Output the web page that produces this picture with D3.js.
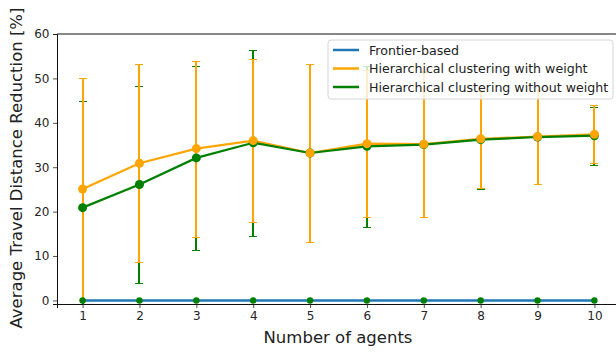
<!DOCTYPE html>
<html>
<head>
<meta charset="utf-8">
<script src="https://cdn.jsdelivr.net/npm/d3@7"></script>
<style>
  body { margin: 0; background: #fff; }
  text { font-family: "DejaVu Sans", sans-serif; }
</style>
</head>
<body>
<div id="chart"></div>
<script>
// data
const agents = [1, 2, 3, 4, 5, 6, 7, 8, 9, 10];
const frontier = [0, 0, 0, 0, 0, 0, 0, 0, 0, 0];
const withWeight = [25.1, 30.9, 34.2, 36.0, 33.2, 35.3, 35.2, 36.4, 36.9, 37.4];
const withWeightStd = [25.1, 22.3, 19.8, 18.3, 20.0, 16.5, 16.4, 11.1, 10.6, 6.5];
const withoutWeight = [20.9, 26.1, 32.1, 35.5, 33.2, 34.7, 35.1, 36.2, 36.8, 37.1];
const withoutWeightStd = [24.0, 22.1, 20.7, 20.9, 20.0, 18.2, 16.3, 11.0, 10.5, 6.5];
const yTicks = [0, 10, 20, 30, 40, 50, 60];
const legendLabels = ["Frontier-based", "Hierarchical clustering with weight", "Hierarchical clustering without weight"];
const colors = ["#1f77b4", "orange", "green"];

const width = 616, height = 352;

const svg = d3.select("#chart").append("svg")
  .attr("width", width)
  .attr("height", height);

// axes extend past the right edge like the original figure
const x = d3.scaleLinear().domain([0.55, 10.45]).range([57, 620]);
const y = d3.scaleLinear().domain([-0.8, 60]).range([304, 34]);

svg.append("defs").append("clipPath").attr("id", "plot")
  .append("rect")
  .attr("x", 57).attr("y", 34)
  .attr("width", 563).attr("height", 270);

const plot = svg.append("g").attr("clip-path", "url(#plot)");

// error bars (snapped to whole pixels so overlapping bars stay crisp)
function errorBars(means, stds, color) {
  const g = plot.append("g").attr("stroke", color).attr("stroke-width", 2)
    .attr("shape-rendering", "crispEdges");
  agents.forEach((a, i) => {
    const lo = means[i] - stds[i], hi = means[i] + stds[i];
    const cx = Math.round(x(a));
    g.append("line")
      .attr("x1", cx).attr("x2", cx)
      .attr("y1", y(lo)).attr("y2", y(hi));
    [lo, hi].forEach(v => {
      g.append("line")
        .attr("x1", cx - 4).attr("x2", cx + 4)
        .attr("y1", Math.round(y(v)) + 0.5).attr("y2", Math.round(y(v)) + 0.5)
        .attr("stroke-width", 1);
    });
  });
}
errorBars(withoutWeight, withoutWeightStd, colors[2]);
errorBars(withWeight, withWeightStd, colors[1]);

const line = d3.line()
  .x((d, i) => x(agents[i]))
  .y(d => y(d));

// frontier line with small green dots
plot.append("path")
  .datum(frontier)
  .attr("d", line)
  .attr("fill", "none")
  .attr("stroke", colors[0])
  .attr("stroke-width", 2.5);
plot.append("g").selectAll("circle")
  .data(frontier)
  .join("circle")
  .attr("cx", (d, i) => x(agents[i]))
  .attr("cy", d => y(d))
  .attr("r", 3.2)
  .attr("fill", colors[2]);

plot.append("path")
  .datum(withWeight)
  .attr("d", line)
  .attr("fill", "none")
  .attr("stroke", colors[1])
  .attr("stroke-width", 2.2);
plot.append("path")
  .datum(withoutWeight)
  .attr("d", line)
  .attr("fill", "none")
  .attr("stroke", colors[2])
  .attr("stroke-width", 2.2);

plot.append("g").selectAll("circle")
  .data(withoutWeight)
  .join("circle")
  .attr("cx", (d, i) => x(agents[i]))
  .attr("cy", d => y(d))
  .attr("r", 4.5)
  .attr("fill", colors[2]);
plot.append("g").selectAll("circle")
  .data(withWeight)
  .join("circle")
  .attr("cx", (d, i) => x(agents[i]))
  .attr("cy", d => y(d))
  .attr("r", 4.5)
  .attr("fill", colors[1]);

// axes
const xAxis = svg.append("g")
  .attr("transform", "translate(0,304)")
  .call(d3.axisBottom(x).tickValues(agents).tickFormat(d3.format("d")).tickSize(4).tickPadding(3.5));
const yAxis = svg.append("g")
  .attr("transform", "translate(57,0)")
  .call(d3.axisLeft(y).tickValues(yTicks).tickSize(4).tickPadding(3.5));
[xAxis, yAxis].forEach(a => {
  a.selectAll("text").attr("font-size", 12).attr("fill", "#262626")
    .style("font-family", "DejaVu Sans, sans-serif");
  a.selectAll("line").attr("stroke", "#262626").attr("stroke-width", 0.8);
  a.select(".domain").attr("stroke", "#111").attr("stroke-width", 1);
});
// top spine
svg.append("line")
  .attr("x1", 57).attr("x2", 620)
  .attr("y1", 34).attr("y2", 34)
  .attr("stroke", "#111").attr("stroke-width", 1);

// axis labels
svg.append("text")
  .attr("x", 338).attr("y", 343)
  .attr("text-anchor", "middle")
  .attr("font-size", 16.5)
  .attr("fill", "#222")
  .text("Number of agents");
svg.append("text")
  .attr("transform", "translate(22,168) rotate(-90)")
  .attr("text-anchor", "middle")
  .attr("font-size", 16.5)
  .attr("fill", "#222")
  .text("Average Travel Distance Reduction [%]");

// legend
const legend = svg.append("g").attr("transform", "translate(328,40)");
legend.append("rect")
  .attr("width", 285).attr("height", 59)
  .attr("rx", 3)
  .attr("fill", "white").attr("fill-opacity", 0.8)
  .attr("stroke", "#d6d6d6");
legendLabels.forEach((lab, i) => {
  const ly = 10 + i * 18.5;
  legend.append("line")
    .attr("x1", 5).attr("x2", 31)
    .attr("y1", ly).attr("y2", ly)
    .attr("stroke", colors[i]).attr("stroke-width", 2.5);
  legend.append("text")
    .attr("x", 41).attr("y", ly + 4.5)
    .attr("font-size", 12.6)
    .attr("fill", "#222")
    .text(lab);
});
</script>
</body>
</html>
